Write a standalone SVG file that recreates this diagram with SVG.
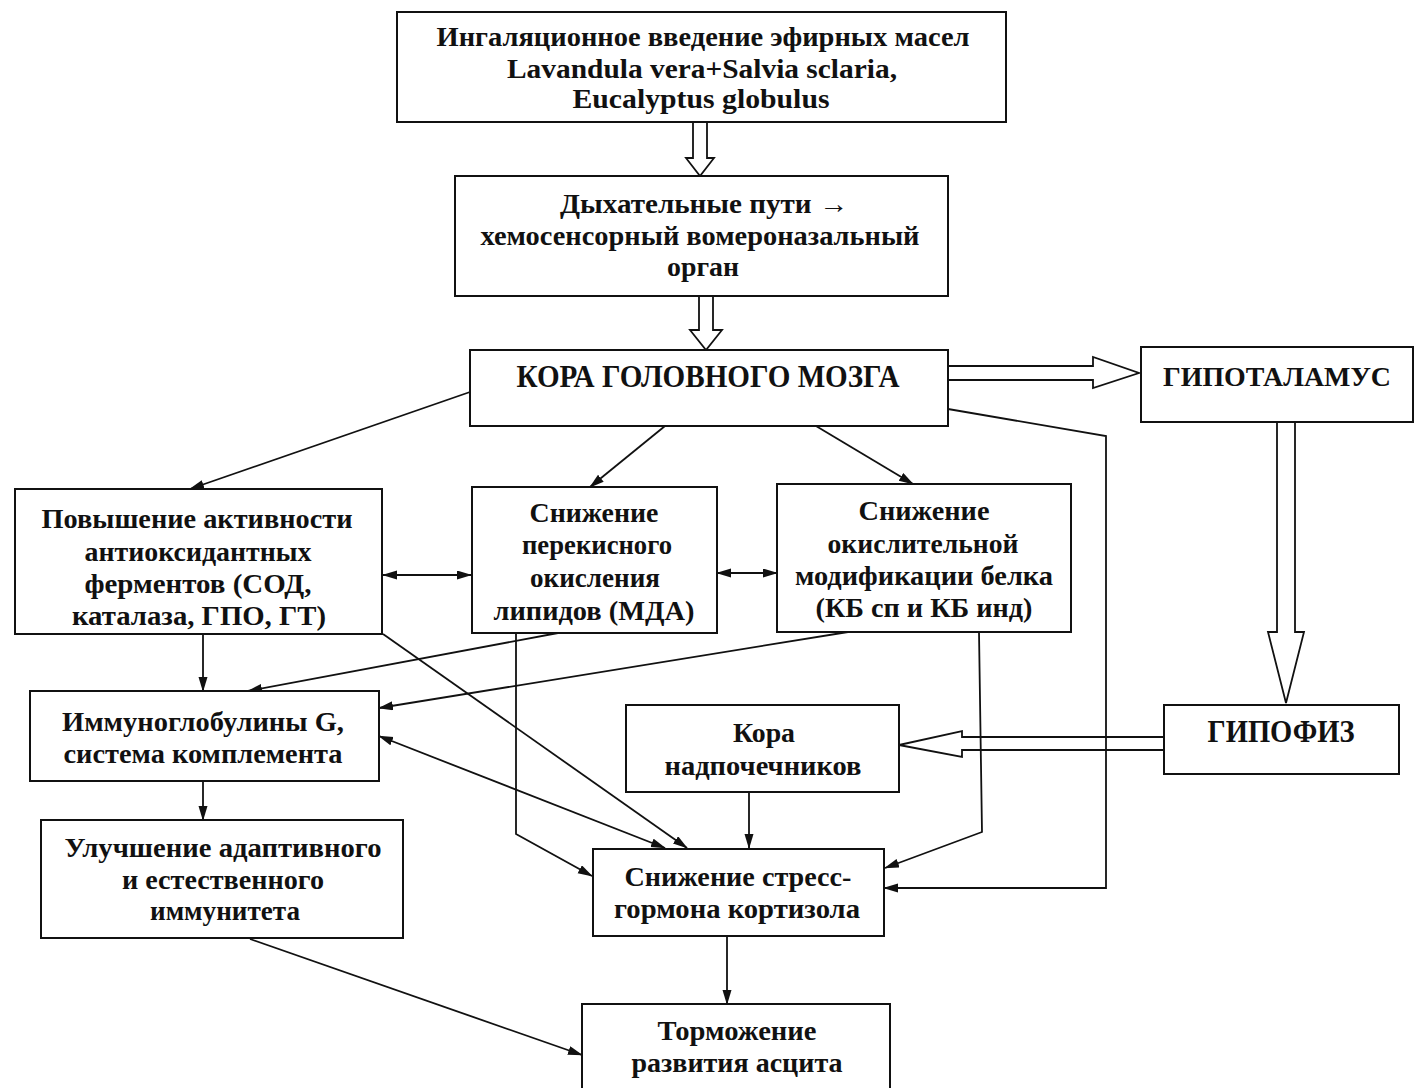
<svg xmlns="http://www.w3.org/2000/svg" width="1414" height="1088" viewBox="0 0 1414 1088">
<style>
.box{fill:#fff;stroke:#111;stroke-width:2}
.t{font-family:"Liberation Serif","Times New Roman",serif;font-weight:bold;font-size:27px;fill:#111;text-anchor:middle}
.big{font-size:31px}
.ln{fill:none;stroke:#111;stroke-width:1.8}
.hol{fill:#fff;stroke:#111;stroke-width:1.8;stroke-linejoin:miter}
</style>
<defs>
<marker id="ah" markerUnits="userSpaceOnUse" markerWidth="15" markerHeight="10" refX="14" refY="4.5" orient="auto-start-reverse">
<path d="M0,0 L15,4.5 L0,9 z" fill="#111"/>
</marker>
</defs>
<rect width="1414" height="1088" fill="#fff"/>

<g id="connectors">
<polygon class="hol" points="693,122 693,158 686,158 700,176 714,158 707,158 707,122"/>
<polygon class="hol" points="699,296 699,330 690,330 706,350 722,330 713,330 713,296"/>
<polygon class="hol" points="948,366 1093,366 1093,357 1139,373 1093,388 1093,380 948,380"/>
<polygon class="hol" points="1277,422 1277,632 1268,632 1286,703 1304,632 1295,632 1295,422"/>
<polygon class="hol" points="1164,737 962,737 962,731 899,745 962,757 962,750 1164,750"/>
<line class="ln" x1="470" y1="392" x2="190" y2="489" marker-end="url(#ah)"/>
<line class="ln" x1="665" y1="426" x2="590" y2="487" marker-end="url(#ah)"/>
<line class="ln" x1="816" y1="426" x2="913" y2="484" marker-end="url(#ah)"/>
<polyline class="ln" points="948,409 1106,436 1106,888 884,888" marker-end="url(#ah)"/>
<line class="ln" x1="383" y1="575" x2="471" y2="575" marker-start="url(#ah)" marker-end="url(#ah)"/>
<line class="ln" x1="717" y1="573" x2="777" y2="573" marker-start="url(#ah)" marker-end="url(#ah)"/>
<line class="ln" x1="203" y1="634" x2="203" y2="691" marker-end="url(#ah)"/>
<line class="ln" x1="558" y1="633" x2="248" y2="691" marker-end="url(#ah)"/>
<line class="ln" x1="848" y1="632" x2="379" y2="708" marker-end="url(#ah)"/>
<line class="ln" x1="383" y1="634" x2="687" y2="848" marker-end="url(#ah)"/>
<line class="ln" x1="379" y1="736" x2="665" y2="848" marker-start="url(#ah)" marker-end="url(#ah)"/>
<polyline class="ln" points="516,633 516,834 592,876" marker-end="url(#ah)"/>
<polyline class="ln" points="979,632 982,832 885,868" marker-end="url(#ah)"/>
<line class="ln" x1="749" y1="792" x2="749" y2="848" marker-end="url(#ah)"/>
<line class="ln" x1="203" y1="781" x2="203" y2="820" marker-end="url(#ah)"/>
<line class="ln" x1="727" y1="936" x2="727" y2="1004" marker-end="url(#ah)"/>
<line class="ln" x1="250" y1="939" x2="582" y2="1055" marker-end="url(#ah)"/>
</g>

<g id="n-inhal">
<rect class="box" x="397" y="12" width="609" height="110"/>
<text class="t" x="703" y="46" textLength="533" lengthAdjust="spacingAndGlyphs">Ингаляционное введение эфирных масел</text>
<text class="t" x="702" y="78" textLength="390" lengthAdjust="spacingAndGlyphs">Lavandula vera+Salvia sclaria,</text>
<text class="t" x="701" y="108" textLength="257" lengthAdjust="spacingAndGlyphs">Eucalyptus globulus</text>
</g>

<g id="n-resp">
<rect class="box" x="455" y="176" width="493" height="120"/>
<text class="t" x="704" y="213" textLength="288" lengthAdjust="spacingAndGlyphs">Дыхательные пути →</text>
<text class="t" x="700" y="245" textLength="439" lengthAdjust="spacingAndGlyphs">хемосенсорный вомероназальный</text>
<text class="t" x="703" y="276" textLength="72" lengthAdjust="spacingAndGlyphs">орган</text>
</g>

<g id="n-cortex">
<rect class="box" x="470" y="350" width="478" height="76"/>
<text class="t big" x="708" y="387" textLength="383" lengthAdjust="spacingAndGlyphs">КОРА ГОЛОВНОГО МОЗГА</text>
</g>

<g id="n-hypothal">
<rect class="box" x="1141" y="347" width="272" height="75"/>
<text class="t" x="1277" y="386" font-size="29" textLength="228" lengthAdjust="spacingAndGlyphs">ГИПОТАЛАМУС</text>
</g>

<g id="n-antiox">
<rect class="box" x="15" y="489" width="367" height="145"/>
<text class="t" x="197" y="528" textLength="311" lengthAdjust="spacingAndGlyphs">Повышение активности</text>
<text class="t" x="198" y="561" textLength="227" lengthAdjust="spacingAndGlyphs">антиоксидантных</text>
<text class="t" x="198" y="593" textLength="227" lengthAdjust="spacingAndGlyphs">ферментов (СОД,</text>
<text class="t" x="199" y="625" textLength="254" lengthAdjust="spacingAndGlyphs">каталаза, ГПО, ГТ)</text>
</g>

<g id="n-lipid">
<rect class="box" x="472" y="487" width="245" height="146"/>
<text class="t" x="594" y="522" textLength="129" lengthAdjust="spacingAndGlyphs">Снижение</text>
<text class="t" x="597" y="554" textLength="150" lengthAdjust="spacingAndGlyphs">перекисного</text>
<text class="t" x="595" y="587" textLength="130" lengthAdjust="spacingAndGlyphs">окисления</text>
<text class="t" x="594" y="620" textLength="201" lengthAdjust="spacingAndGlyphs">липидов (МДА)</text>
</g>

<g id="n-protein">
<rect class="box" x="777" y="484" width="294" height="148"/>
<text class="t" x="924" y="520" textLength="131" lengthAdjust="spacingAndGlyphs">Снижение</text>
<text class="t" x="923" y="553" textLength="191" lengthAdjust="spacingAndGlyphs">окислительной</text>
<text class="t" x="924" y="585" textLength="258" lengthAdjust="spacingAndGlyphs">модификации белка</text>
<text class="t" x="924" y="617" textLength="217" lengthAdjust="spacingAndGlyphs">(КБ сп и КБ инд)</text>
</g>

<g id="n-immuno">
<rect class="box" x="30" y="691" width="349" height="90"/>
<text class="t" x="203" y="731" textLength="282" lengthAdjust="spacingAndGlyphs">Иммуноглобулины G,</text>
<text class="t" x="203" y="763" textLength="279" lengthAdjust="spacingAndGlyphs">система комплемента</text>
</g>

<g id="n-adrenal">
<rect class="box" x="626" y="705" width="273" height="87"/>
<text class="t" x="764" y="742" textLength="62" lengthAdjust="spacingAndGlyphs">Кора</text>
<text class="t" x="763" y="775" textLength="197" lengthAdjust="spacingAndGlyphs">надпочечников</text>
</g>

<g id="n-hypophysis">
<rect class="box" x="1164" y="705" width="235" height="69"/>
<text class="t big" x="1281" y="742" textLength="147" lengthAdjust="spacingAndGlyphs">ГИПОФИЗ</text>
</g>

<g id="n-immunity">
<rect class="box" x="41" y="820" width="362" height="118"/>
<text class="t" x="223" y="857" textLength="317" lengthAdjust="spacingAndGlyphs">Улучшение адаптивного</text>
<text class="t" x="223" y="889" textLength="202" lengthAdjust="spacingAndGlyphs">и естественного</text>
<text class="t" x="225" y="920" textLength="150" lengthAdjust="spacingAndGlyphs">иммунитета</text>
</g>

<g id="n-cortisol">
<rect class="box" x="593" y="849" width="291" height="87"/>
<text class="t" x="738" y="886" textLength="227" lengthAdjust="spacingAndGlyphs">Снижение стресс-</text>
<text class="t" x="737" y="918" textLength="246" lengthAdjust="spacingAndGlyphs">гормона кортизола</text>
</g>

<g id="n-ascites">
<rect class="box" x="582" y="1004" width="308" height="100"/>
<text class="t" x="737" y="1040" textLength="159" lengthAdjust="spacingAndGlyphs">Торможение</text>
<text class="t" x="737" y="1072" textLength="211" lengthAdjust="spacingAndGlyphs">развития асцита</text>
</g>
</svg>
